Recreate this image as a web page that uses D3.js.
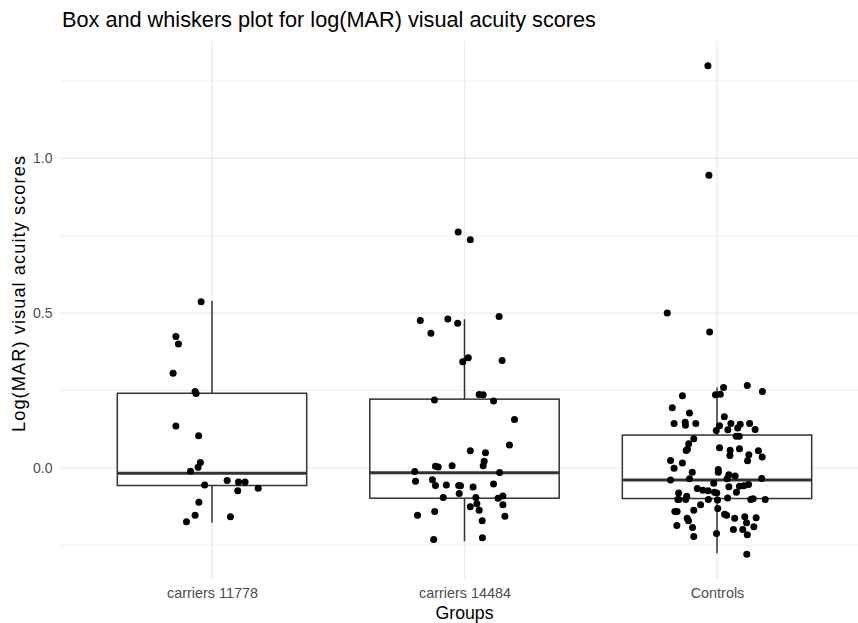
<!DOCTYPE html>
<html>
<head>
<meta charset="utf-8">
<script src="https://cdn.jsdelivr.net/npm/d3@7"></script>
<style>
  html, body { margin: 0; padding: 0; background: #ffffff; }
  svg { display: block; }
  text { font-family: "Liberation Sans", Arial, Helvetica, sans-serif; }
</style>
</head>
<body>
<svg id="chart" width="858" height="623"></svg>
<script>
// ---------------- DATA ----------------
const groups = ["carriers 11778", "carriers 14484", "Controls"];

// box statistics
const boxLower   = [-0.177, -0.237, -0.276];
const boxQ1      = [-0.057, -0.098, -0.099];
const boxMedian  = [-0.017, -0.016, -0.039];
const boxQ3      = [ 0.241,  0.222,  0.106];
const boxUpper   = [ 0.540,  0.480,  0.260];

// jittered observations: values and horizontal jitter (fraction of category step)
const values11778 = [0.537,0.424,0.400,0.306,0.247,0.240,0.135,0.104,0.017,0.002,-0.011,-0.055,-0.041,-0.046,-0.046,-0.066,-0.074,-0.111,-0.153,-0.174,-0.158];
const jitter11778 = [-0.043,-0.143,-0.133,-0.154,-0.067,-0.063,-0.143,-0.053,-0.046,-0.055,-0.085,-0.029,0.060,0.105,0.131,0.183,0.102,-0.052,-0.067,-0.101,0.073];

const values14484 = [0.762,0.737,0.476,0.481,0.467,0.489,0.435,0.356,0.343,0.347,0.237,0.236,0.219,0.216,0.156,0.074,0.055,0.049,0.021,0.007,0.005,0.003,0.007,-0.012,-0.015,-0.043,-0.038,-0.057,-0.055,-0.057,-0.058,-0.062,-0.052,-0.083,-0.096,-0.096,-0.098,-0.091,-0.126,-0.116,-0.137,-0.119,-0.153,-0.141,-0.156,-0.171,-0.231,-0.226];
const jitter14484 = [-0.025,0.023,-0.175,-0.066,-0.027,0.137,-0.133,0.015,-0.007,0.149,0.058,0.074,-0.119,0.115,0.198,0.178,0.023,0.083,0.078,0.074,-0.115,-0.104,-0.049,-0.197,0.139,-0.194,-0.127,-0.115,-0.072,-0.023,-0.016,0.034,0.115,-0.021,-0.084,0.045,0.133,0.152,0.023,0.049,0.058,0.152,-0.186,-0.118,0.160,0.070,-0.122,0.071];

const valuesControls = [1.299,0.945,0.500,0.439,0.260,0.266,0.247,0.233,0.236,0.238,0.194,0.177,0.165,0.143,0.147,0.138,0.143,0.136,0.143,0.141,0.143,0.121,0.123,0.129,0.124,0.102,0.102,0.094,0.078,0.056,0.060,0.065,0.057,0.062,0.055,0.042,0.035,0.040,0.023,0.024,0.016,-0.001,-0.005,-0.014,-0.014,-0.022,-0.026,-0.039,-0.035,-0.035,-0.034,-0.050,-0.061,-0.059,-0.058,-0.054,-0.067,-0.072,-0.074,-0.079,-0.081,-0.079,-0.081,-0.092,-0.102,-0.102,-0.102,-0.102,-0.104,-0.097,-0.102,-0.100,-0.102,-0.119,-0.131,-0.137,-0.141,-0.141,-0.150,-0.153,-0.163,-0.158,-0.161,-0.163,-0.171,-0.177,-0.186,-0.193,-0.199,-0.199,-0.190,-0.216,-0.222,-0.212,-0.279];
const jitterControls = [-0.036,-0.032,-0.197,-0.029,0.026,0.120,0.180,-0.137,-0.006,0.013,-0.177,-0.109,0.029,-0.170,-0.126,-0.125,-0.084,0.010,0.055,0.092,0.129,-0.003,0.043,0.082,0.151,0.076,0.088,-0.092,-0.112,-0.122,-0.117,0.010,0.052,0.089,0.164,0.126,0.179,0.051,0.121,-0.184,-0.137,-0.170,0.005,0.005,-0.098,0.047,0.072,-0.184,-0.109,0.040,0.177,-0.013,0.047,0.089,0.106,0.125,-0.078,-0.056,-0.035,-0.010,-0.001,0.077,-0.152,-0.120,-0.155,-0.151,-0.124,-0.034,0.002,0.042,0.134,0.143,0.191,-0.065,0.003,-0.092,-0.167,-0.158,0.030,0.038,0.070,0.110,0.155,-0.118,-0.113,0.117,-0.159,-0.097,0.065,0.102,0.146,0.120,-0.092,-0.002,0.118];

const yMajorTicks = [0.0, 0.5, 1.0];
const yMinorTicks = [-0.25, 0.25, 0.75, 1.25];

const titleText = "Box and whiskers plot for log(MAR) visual acuity scores";
const xTitle = "Groups";
const yTitle = "Log(MAR) visual acuity scores";

// ---------------- LAYOUT ----------------
const svg = d3.select("#chart");
const panel = { left: 60.5, right: 868.5, top: 41, bottom: 579 };

const x = d3.scalePoint().domain(groups).range([panel.left, panel.right]).padding(0.6);
const step = x.step();
const y = d3.scaleLinear().domain([-0.359, 1.379]).range([panel.bottom, panel.top]);

const gridColor = "#ebebeb";

// minor gridlines
svg.append("g").selectAll("line").data(yMinorTicks).join("line")
  .attr("x1", panel.left).attr("x2", panel.right)
  .attr("y1", d => y(d)).attr("y2", d => y(d))
  .attr("stroke", gridColor).attr("stroke-width", 0.8);

// major gridlines (y)
svg.append("g").selectAll("line").data(yMajorTicks).join("line")
  .attr("x1", panel.left).attr("x2", panel.right)
  .attr("y1", d => y(d)).attr("y2", d => y(d))
  .attr("stroke", gridColor).attr("stroke-width", 1.4);

// major gridlines (x)
svg.append("g").selectAll("line").data(groups).join("line")
  .attr("x1", d => x(d)).attr("x2", d => x(d))
  .attr("y1", panel.top).attr("y2", panel.bottom)
  .attr("stroke", gridColor).attr("stroke-width", 1.4);

// y axis (labels only)
const yAxis = d3.axisLeft(y).tickValues(yMajorTicks).tickFormat(d3.format(".1f")).tickSize(0).tickPadding(8);
const yg = svg.append("g").attr("transform", `translate(${panel.left},0)`).call(yAxis);
yg.select(".domain").remove();
yg.selectAll("text").attr("fill", "#4d4d4d").style("font-size", "14px")
  .style("font-family", "'Liberation Sans', Arial, Helvetica, sans-serif");

// x axis (labels only)
const xAxis = d3.axisBottom(x).tickSize(0).tickPadding(9);
const xg = svg.append("g").attr("transform", `translate(0,${panel.bottom})`).call(xAxis);
xg.select(".domain").remove();
xg.selectAll("text").attr("fill", "#4d4d4d").style("font-size", "14.4px")
  .style("font-family", "'Liberation Sans', Arial, Helvetica, sans-serif");

// boxes
const boxW = 0.75 * step;
const boxColor = "#333333";
const bg = svg.append("g");
groups.forEach((g, i) => {
  const cx = x(g);
  bg.append("line").attr("x1", cx).attr("x2", cx)
    .attr("y1", y(boxQ3[i])).attr("y2", y(boxUpper[i]))
    .attr("stroke", boxColor).attr("stroke-width", 1.5);
  bg.append("line").attr("x1", cx).attr("x2", cx)
    .attr("y1", y(boxQ1[i])).attr("y2", y(boxLower[i]))
    .attr("stroke", boxColor).attr("stroke-width", 1.5);
  bg.append("rect").attr("x", cx - boxW / 2).attr("width", boxW)
    .attr("y", y(boxQ3[i])).attr("height", y(boxQ1[i]) - y(boxQ3[i]))
    .attr("fill", "#ffffff").attr("stroke", boxColor).attr("stroke-width", 1.5);
  bg.append("line").attr("x1", cx - boxW / 2).attr("x2", cx + boxW / 2)
    .attr("y1", y(boxMedian[i])).attr("y2", y(boxMedian[i]))
    .attr("stroke", boxColor).attr("stroke-width", 3);
});

// points
const pointSets = [
  { g: groups[0], v: values11778, j: jitter11778 },
  { g: groups[1], v: values14484, j: jitter14484 },
  { g: groups[2], v: valuesControls, j: jitterControls }
];
const pg = svg.append("g");
pointSets.forEach(s => {
  const pts = s.v.map((v, k) => ({ v, j: s.j[k] }));
  pg.selectAll(null).data(pts).join("circle")
    .attr("cx", d => x(s.g) + d.j * step)
    .attr("cy", d => y(d.v))
    .attr("r", 3.5)
    .attr("fill", "#000000");
});

// titles
svg.append("text").attr("x", 62).attr("y", 27)
  .style("font-size", "21.7px").attr("fill", "#000").text(titleText);

svg.append("text").attr("x", (x(groups[0]) + x(groups[2])) / 2).attr("y", 619)
  .attr("text-anchor", "middle").style("font-size", "17.7px").attr("fill", "#000").text(xTitle);

svg.append("text")
  .attr("transform", `translate(24.5,294) rotate(-90)`)
  .attr("text-anchor", "middle").style("font-size", "18.2px")
  .attr("textLength", 276).attr("lengthAdjust", "spacing")
  .attr("fill", "#000").text(yTitle);
</script>
</body>
</html>
